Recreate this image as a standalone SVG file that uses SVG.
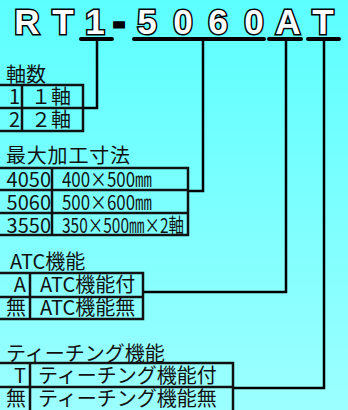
<svg xmlns="http://www.w3.org/2000/svg" width="348" height="410" viewBox="0 0 348 410">
<defs>
<linearGradient id="bg" x1="0" y1="0" x2="0" y2="1">
<stop offset="0" stop-color="#5cffff"/>
<stop offset="1" stop-color="#9cffff"/>
</linearGradient>
<style>
.ttl{font-family:"Liberation Sans",Arial,sans-serif;font-weight:bold;font-size:35px;fill:#fff;stroke:#000;stroke-width:3;paint-order:stroke;text-anchor:middle}
.ul{stroke:#000;stroke-width:4;stroke-linecap:round;fill:none}
.con{stroke:#000;stroke-width:2.5;fill:none}
.tb{stroke:#111;stroke-width:2.5;fill:none}
.t{font-family:"Noto Sans CJK JP","Noto Sans",sans-serif;font-size:20px;fill:#111}
.r{text-anchor:end}
</style>
</defs>
<rect width="348" height="410" fill="url(#bg)"/>
<g id="title">
<text class="ttl" x="27" y="34">R</text>
<text class="ttl" x="63" y="34">T</text>
<text class="ttl" x="95" y="34">1</text>
<text class="ttl" x="119" y="34" style="fill:#000">-</text>
<text class="ttl" x="147" y="34">5</text>
<text class="ttl" x="183" y="34">0</text>
<text class="ttl" x="218" y="34">6</text>
<text class="ttl" x="254" y="34">0</text>
<text class="ttl" x="288" y="34">A</text>
<text class="ttl" x="323" y="34">T</text>
</g>
<g id="connectors">
<path class="ul" d="M81 39H112M134 39H264M269 39H301M308 39H339"/>
<path class="con" d="M97 39V108H83"/>
<path class="con" d="M203 39V191H188"/>
<path class="con" d="M286 39V292H143"/>
<path class="con" d="M324 39V388H233"/>
</g>
<g id="axes">
<text class="t" x="6" y="82">軸数</text>
<path class="tb" d="M-2 85H83V131H-2M-2 108H83M22 85V131"/>
<text class="t r" x="20" y="104">1</text>
<text class="t" x="31" y="104">１軸</text>
<text class="t r" x="20" y="127">2</text>
<text class="t" x="31" y="127">２軸</text>
</g>
<g id="size">
<text class="t" x="6" y="163" textLength="124">最大加工寸法</text>
<path class="tb" d="M-2 168H188V235H-2M-2 190H188M-2 213H188M52 168V235"/>
<text class="t r" x="51" y="187">4050</text>
<text class="t" x="62" y="187" textLength="90" lengthAdjust="spacingAndGlyphs">400×500㎜</text>
<text class="t r" x="51" y="210">5060</text>
<text class="t" x="62" y="210" textLength="90" lengthAdjust="spacingAndGlyphs">500×600㎜</text>
<text class="t r" x="51" y="233">3550</text>
<text class="t" x="62" y="233" textLength="122" lengthAdjust="spacingAndGlyphs">350×500㎜×2軸</text>
</g>
<g id="atc">
<text class="t" x="10" y="269">ATC機能</text>
<path class="tb" d="M-2 273H143V319H-2M-2 297H143M30 273V319"/>
<text class="t r" x="26" y="292">A</text>
<text class="t" x="40" y="292">ATC機能付</text>
<text class="t r" x="26" y="315">無</text>
<text class="t" x="40" y="315">ATC機能無</text>
</g>
<g id="teaching">
<text class="t" x="6" y="361">ティーチング機能</text>
<path class="tb" d="M-2 363H233V412M-2 387H233M30 363V412"/>
<text class="t r" x="26" y="383">T</text>
<text class="t" x="38" y="383">ティーチング機能付</text>
<text class="t r" x="26" y="406">無</text>
<text class="t" x="38" y="406">ティーチング機能無</text>
</g>
</svg>
